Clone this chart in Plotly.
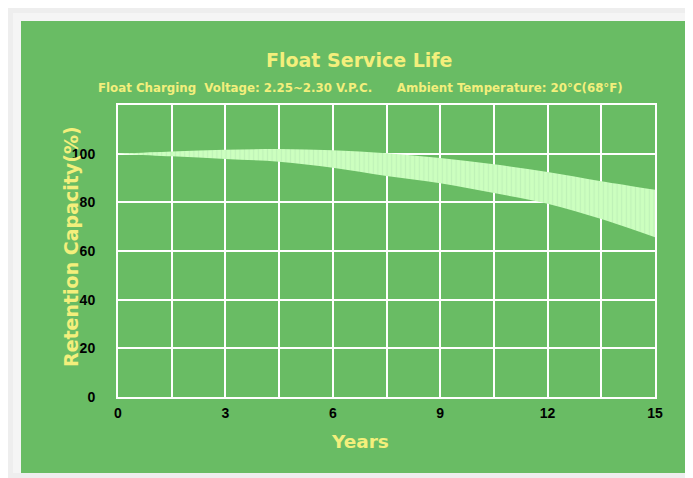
import plotly.graph_objects as go

# Float service life band (retention capacity %)
years = [0, 1.5, 3, 4.5, 6, 7.5, 9, 10.5, 12, 13.5, 15]
upper = [100, 100.9, 101.6, 101.9, 101.4, 100.2, 98.2, 95.6, 92.5, 88.7, 85.2]
lower = [100, 98.9, 97.8, 96.7, 94.2, 90.8, 87.8, 83.8, 79.4, 73.1, 65.6]

x_tickvals = [0, 1.5, 3, 4.5, 6, 7.5, 9, 10.5, 12, 13.5, 15]
x_ticktext = ["0", "", "3", "", "6", "", "9", "", "12", "", "15"]
y_tickvals = [0, 20, 40, 60, 80, 100]

GREEN = "#69bc64"
YELLOW = "#f3ef7c"
OFF = 8  # the page body margin shifts the figure by 8px
W, H = 685, 470
L, R, T, B = 118 - OFF, 693 - 655, 105 - OFF, 478 - 397


def px_x(p):
    # page pixel -> paper x
    return (p - OFF - L) / (W - L - R)


def px_y(p):
    # page pixel -> paper y
    return (H - B - (p - OFF)) / (H - T - B)


fig = go.Figure()
fig.add_trace(go.Scatter(
    x=years, y=lower, mode="lines", line=dict(width=0, shape="spline"),
    hoverinfo="skip", showlegend=False,
))
fig.add_trace(go.Scatter(
    x=years, y=upper, mode="lines", line=dict(width=0, shape="spline"),
    fill="tonexty", fillcolor="#ccffbf",
    fillpattern=dict(shape="|", size=4.6, solidity=0.25,
                     fgcolor="#b2e6b0", bgcolor="#ccffbf"),
    hoverinfo="skip", showlegend=False,
))

# grey frame around the green panel (paper itself is green)
frame = [
    (0, 13, 0, 1000, "#eeeeee"),     # left outer
    (0, 1000, 0, 13, "#eeeeee"),     # top outer
    (13, 21, 13, 473, "#f5f5f5"),    # left inner
    (13, 1000, 13, 21, "#f5f5f5"),   # top inner
    (0, 1000, 473, 1000, "#eeeeee"),  # bottom
]
for x0, x1, y0, y1, col in frame:
    fig.add_shape(type="rect", xref="paper", yref="paper", layer="below",
                  x0=px_x(x0), x1=px_x(x1), y0=px_y(y0), y1=px_y(y1),
                  fillcolor=col, line_width=0)

ann_font = "DejaVu Sans, Verdana, sans-serif"


def label(text, x, y, size, angle=0):
    fig.add_annotation(text=f"<b>{text}</b>", x=px_x(x), y=px_y(y),
                       xref="paper", yref="paper", showarrow=False,
                       xanchor="center", yanchor="middle", textangle=angle,
                       font=dict(family=ann_font, size=size, color=YELLOW))


label("Float Service Life", 359, 60, 19)
label("Float Charging  Voltage: 2.25~2.30 V.P.C.      Ambient Temperature: 20°C(68°F)",
      360, 88, 11.8)
label("Years", 360, 441, 18.5)
label("Retention Capacity(%)", 71, 247, 19, angle=-90)

tick_font = dict(family="Liberation Sans Narrow, Arial Narrow, Liberation Sans, sans-serif",
                 size=14, color="black", weight="bold")

fig.update_layout(
    width=W, height=H,
    margin=dict(l=L, r=R, t=T, b=B),
    paper_bgcolor=GREEN, plot_bgcolor=GREEN,
    xaxis=dict(range=[0, 15], tickvals=x_tickvals, ticktext=x_ticktext,
               showgrid=True, gridcolor="white", gridwidth=1.5,
               showline=True, mirror=True, linecolor="white", linewidth=2,
               zeroline=False, ticks="", ticklabelstandoff=2, tickfont=tick_font),
    yaxis=dict(range=[0, 120], tickvals=y_tickvals,
               showgrid=True, gridcolor="white", gridwidth=1.5,
               showline=True, mirror=True, linecolor="white", linewidth=2,
               zeroline=False, ticks="", ticklabelstandoff=18, tickfont=tick_font),
)

fig.write_html("out.html")
